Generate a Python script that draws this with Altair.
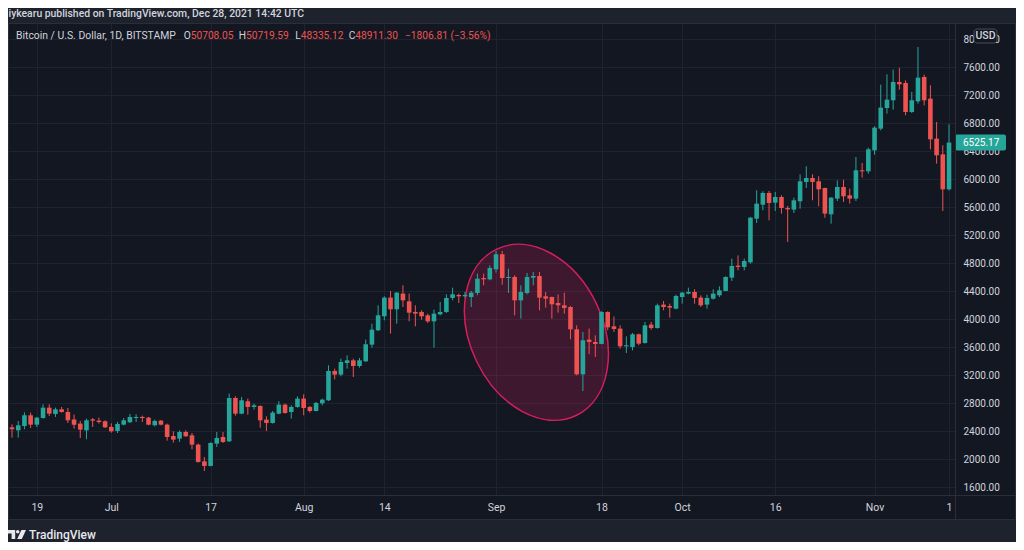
import altair as alt
import numpy as np
import pandas as pd

# ------------------------------------------------------------------ data
first_day = "2017-06-15"

opens = [
    # Jun 15-30
    2457, 2414, 2476, 2629, 2495, 2590, 2738, 2648, 2714, 2676, 2567, 2510, 2414, 2571, 2552, 2543,
    # Jul
    2462, 2405, 2495, 2529, 2590, 2605, 2595, 2486, 2552, 2495, 2333, 2295, 2390, 2343, 2210, 1971,
    1905, 2224, 2319, 2257, 2876, 2652, 2829, 2748, 2762, 2567, 2519, 2652, 2781, 2676, 2748,
    # Aug
    2867, 2748, 2690, 2800, 2843, 3262, 3210, 3376, 3414, 3333, 3400, 3638, 3843, 4043, 4310, 4143,
    4367, 4257, 4105, 4105, 4057, 3971, 4071, 4105, 4305, 4348, 4329, 4319, 4376, 4590, 4571,
    # Sep
    4714, 4929, 4590, 4605, 4271, 4376, 4595, 4619, 4329, 4319, 4233, 4200, 4176, 3857, 3214, 3710,
    3676, 3648, 4105, 3900, 3867, 3614, 3605, 3786, 3662, 3924, 3876, 4210, 4190, 4152,
    # Oct
    4319, 4367, 4390, 4310, 4210, 4295, 4343, 4405, 4595, 4767, 4748, 4814, 5438, 5638, 5805, 5667,
    5748, 5590, 5567, 5686, 5962, 6019, 5971, 5876, 5500, 5724, 5890, 5771, 5724, 6129, 6114,
    # Nov 1-13
    6414, 6724, 7019, 7129, 7390, 7376, 6962, 7114, 7462, 7152, 6581, 6357, 5857,
]
highs = [
    2500, 2547, 2671, 2667, 2605, 2786, 2786, 2738, 2748, 2733, 2638, 2548, 2581, 2590, 2595, 2557,
    2514, 2533, 2590, 2648, 2643, 2624, 2605, 2567, 2562, 2510, 2400, 2414, 2414, 2376, 2224, 2033,
    2243, 2390, 2390, 2938, 2900, 2890, 2867, 2795, 2771, 2614, 2690, 2829, 2795, 2771, 2900,
    2929, 2762, 2819, 2867, 3343, 3295, 3438, 3486, 3438, 3448, 3710, 3938, 4200, 4329, 4405, 4390,
    4486, 4367, 4200, 4129, 4081, 4138, 4248, 4357, 4452, 4367, 4390, 4405, 4652, 4652, 4771,
    4976, 4976, 4724, 4629, 4486, 4662, 4676, 4676, 4390, 4325, 4357, 4381, 4190, 3914, 3819, 3867,
    3771, 4114, 4114, 4040, 3914, 3757, 3805, 3795, 3962, 3962, 4224, 4262, 4224, 4352,
    4390, 4452, 4429, 4343, 4352, 4429, 4471, 4614, 4867, 4914, 4867, 5462, 5843, 5829, 5833, 5819,
    5771, 5619, 5738, 6071, 6186, 6071, 6043, 5880, 5745, 5986, 5995, 5867, 6319, 6233, 6452,
    6757, 7352, 7500, 7567, 7595, 7414, 7248, 7890, 7495, 7343, 6819, 6486, 6786,
]
lows = [
    2310, 2310, 2429, 2448, 2462, 2581, 2619, 2605, 2667, 2519, 2438, 2305, 2286, 2462, 2510, 2448,
    2381, 2376, 2486, 2519, 2533, 2533, 2486, 2471, 2486, 2267, 2238, 2248, 2319, 2143, 1952, 1833,
    1900, 2176, 2233, 2248, 2624, 2643, 2638, 2710, 2452, 2405, 2510, 2643, 2652, 2581, 2738,
    2629, 2667, 2686, 2771, 2833, 3143, 3186, 3295, 3176, 3310, 3390, 3595, 3833, 3986, 3795, 3938,
    4176, 3971, 3900, 3995, 3948, 3595, 4057, 4090, 4271, 4233, 4310, 4176, 4343, 4486, 4557,
    4667, 4495, 4376, 4057, 4010, 4357, 4486, 4129, 4167, 4010, 4095, 4081, 3714, 3200, 2976, 3500,
    3462, 3643, 3843, 3820, 3581, 3519, 3557, 3629, 3652, 3852, 3867, 4129, 4024, 4143,
    4224, 4357, 4224, 4176, 4152, 4281, 4319, 4400, 4548, 4700, 4700, 4795, 5376, 5557, 5414, 5548,
    5510, 5105, 5519, 5581, 5876, 5700, 5614, 5452, 5367, 5690, 5676, 5652, 5690, 6024, 6081,
    6352, 6700, 6938, 6995, 7281, 6914, 6948, 7081, 7057, 6429, 6224, 5548, 5840,
]
closes = [
    2429, 2486, 2629, 2495, 2595, 2738, 2652, 2714, 2676, 2557, 2495, 2424, 2557, 2552, 2533, 2457,
    2400, 2505, 2557, 2605, 2605, 2590, 2495, 2548, 2495, 2319, 2281, 2390, 2329, 2210, 1962, 1905,
    2233, 2305, 2248, 2876, 2652, 2843, 2748, 2771, 2557, 2519, 2667, 2781, 2662, 2748, 2867,
    2733, 2690, 2805, 2852, 3262, 3210, 3390, 3414, 3333, 3414, 3643, 3852, 4057, 4310, 4143, 4381,
    4271, 4095, 4081, 4043, 3971, 4081, 4105, 4305, 4357, 4329, 4348, 4381, 4581, 4571, 4733,
    4929, 4590, 4605, 4271, 4390, 4605, 4619, 4310, 4295, 4214, 4200, 4162, 3857, 3214, 3700, 3676,
    3648, 4105, 3885, 3862, 3614, 3629, 3786, 3652, 3914, 3876, 4200, 4176, 4167, 4333,
    4381, 4390, 4305, 4200, 4305, 4367, 4414, 4605, 4762, 4748, 4833, 5452, 5652, 5805, 5662, 5748,
    5590, 5571, 5700, 5971, 6019, 5962, 5857, 5510, 5738, 5890, 5757, 5724, 6129, 6114, 6429,
    6738, 7024, 7138, 7390, 7357, 6962, 7129, 7452, 7129, 6571, 6343, 5857, 6525.17,
]

tick_dates = ["2017-06-19", "2017-07-01", "2017-07-17", "2017-08-01", "2017-08-14", "2017-09-01",
              "2017-09-18", "2017-10-01", "2017-10-16", "2017-11-01", "2017-11-13"]
tick_labels = ["19", "Jul", "17", "Aug", "14", "Sep", "18", "Oct", "16", "Nov", "1"]
price_ticks = [1600, 2000, 2400, 2800, 3200, 3600, 4000, 4400, 4800, 5200, 5600, 6000,
               6400, 6800, 7200, 7600, 8000]

ellipse_center_time = "2017-09-07 12:15"
ellipse_center_price = 3814

header_title = "iykearu published on TradingView.com, Dec 28, 2021 14:42 UTC"
symbol_desc = "Bitcoin / U.S. Dollar, 1D, BITSTAMP"
ohlc_letters = ["O", "H", "L", "C"]
ohlc_values = ["50708.05", "50719.59", "48335.12", "48911.30"]
change_text = "\u22121806.81 (\u22123.56%)"
currency = "USD"
brand = "TradingView"

# ------------------------------------------------------------------ layout / style
W, H = 947, 472
FONT = "Roboto"
BG = "#131722"
OUTER = "#1e222d"
BORDER = "#2a2e39"
GRID = "#1f2330"
TEXT = "#d1d4dc"
UP = "#26a69a"
DOWN = "#ef5350"
ELL = "#e91e63"
desc_x = 8
ohlc_value_x = [182.7, 238, 292.7, 347.3]
change_x = 397

dates = pd.date_range(first_day, periods=len(opens), freq="D")
df = pd.DataFrame({"date": dates.strftime("%Y-%m-%d"), "open": opens, "high": highs,
                   "low": lows, "close": closes})
df["i"] = (dates - dates[0]).days
df["dir"] = np.where(df["close"] >= df["open"], "up", "down")

tick_i = [int((pd.Timestamp(d) - dates[0]).days) for d in tick_dates]
label_expr = "".join(f"datum.value == {v} ? '{l}' : " for v, l in zip(tick_i, tick_labels)) + "''"

xscale = alt.Scale(domain=[0.158, 151.16], nice=False, zero=False)
yscale = alt.Scale(domain=[1490, 8233], nice=False, zero=False)

xaxis = alt.Axis(orient="bottom", values=tick_i, labelExpr=label_expr, title=None, domain=False,
                 ticks=False, tickSize=0, labelPadding=12, labelBaseline="middle",
                 labelFont=FONT, labelFontSize=10.5, labelColor=TEXT, labelOverlap=False,
                 labelFlush=3, grid=True, gridColor=GRID, gridOpacity=1, gridWidth=1)
yaxis = alt.Axis(orient="right", values=price_ticks, format=".2f", title=None, domain=False,
                 ticks=False, tickSize=0, labelPadding=8, labelAlign="left",
                 labelBaseline="middle", labelFont=FONT, labelFontSize=10, labelColor=TEXT,
                 labelOverlap=False, labelFlush=False, grid=True, gridColor=GRID,
                 gridOpacity=1, gridWidth=1)

X = alt.X("i:Q", scale=xscale, axis=xaxis)
cscale = alt.Scale(domain=["up", "down"], range=[UP, DOWN])
C = alt.Color("dir:N", scale=cscale, legend=None)

one = pd.DataFrame({"k": [0]})


def poly(pts):
    return "M " + " L ".join(f"{x:.3f} {y:.3f}" for x, y in pts) + " Z"


def circ(cx, cy, r):
    k = 0.5523 * r
    return (f"M {cx - r:.3f} {cy:.3f} C {cx - r:.3f} {cy - k:.3f} {cx - k:.3f} {cy - r:.3f} {cx:.3f} {cy - r:.3f} "
            f"C {cx + k:.3f} {cy - r:.3f} {cx + r:.3f} {cy - k:.3f} {cx + r:.3f} {cy:.3f} "
            f"C {cx + r:.3f} {cy + k:.3f} {cx + k:.3f} {cy + r:.3f} {cx:.3f} {cy + r:.3f} "
            f"C {cx - k:.3f} {cy + r:.3f} {cx - r:.3f} {cy + k:.3f} {cx - r:.3f} {cy:.3f} Z")


# ellipse shape (unit major semi-axis, ratio b)
kk, b = 0.5523, 0.7212
ellipse_path = (f"M -1 0 C -1 {-kk*b:.4f} {-kk:.4f} {-b:.4f} 0 {-b:.4f} "
                f"C {kk:.4f} {-b:.4f} 1 {-kk*b:.4f} 1 0 "
                f"C 1 {kk*b:.4f} {kk:.4f} {b:.4f} 0 {b:.4f} "
                f"C {-kk:.4f} {b:.4f} -1 {kk*b:.4f} -1 0 Z")


# TradingView logo in an 18x9 px box mapped to [-1,1] x [-0.5,0.5]
def lp(px, py):
    return (px / 9 - 1, py / 9 - 0.5)


logo_path = " ".join([
    poly([lp(0, 0), lp(7.2, 0), lp(7.2, 9), lp(3.6, 9), lp(3.6, 3.4), lp(0, 3.4)]),
    circ(9.7 / 9 - 1, 1.7 / 9 - 0.5, 1.7 / 9),
    poly([lp(13.4, 0), lp(18, 0), lp(13.8, 9), lp(9.2, 9)]),
])

# ------------------------------------------------------------------ layers
base = alt.Chart(df)

wicks = base.mark_rule(strokeWidth=1, clip=True).encode(
    x=X, y=alt.Y("low:Q", scale=yscale, axis=yaxis), y2="high:Q", color=C)
bodies = base.mark_bar(size=4.6, clip=True).encode(
    x=X, y=alt.Y("open:Q", scale=yscale, axis=yaxis), y2="close:Q", color=C)

ell_df = pd.DataFrame({
    "i": [(pd.Timestamp(ellipse_center_time) - dates[0]) / pd.Timedelta(days=1)],
    "price": [ellipse_center_price]})
ellipse = alt.Chart(ell_df).mark_point(
    shape=ellipse_path, size=(2 * 92.2) ** 2, angle=64.5, filled=True, fill=ELL,
    fillOpacity=0.2, stroke=ELL, strokeWidth=1.5, strokeOpacity=0.9, opacity=1).encode(
    x=X, y=alt.Y("price:Q", scale=yscale, axis=yaxis))

last = df.tail(1).copy()
last["label"] = last["close"].map(lambda v: f"{v:.2f}")
last_box = alt.Chart(last).mark_rect(color=UP, yOffset=-8, y2Offset=8, cornerRadius=2).encode(
    x=alt.value(W), x2=alt.value(W + 51), y=alt.Y("close:Q", scale=yscale, axis=yaxis),
    y2="close:Q")
last_txt = alt.Chart(last).mark_text(align="left", baseline="middle", font=FONT, fontSize=10,
                                     color="#ffffff").encode(
    x=alt.value(W + 8), y=alt.Y("close:Q", scale=yscale, axis=yaxis), text="label:N")

layers = []


def rect(x0, x1, y0, y1, color, **kw):
    return alt.Chart(one).mark_rect(color=color, **kw).encode(
        x=alt.value(x0), x2=alt.value(x1), y=alt.value(y0), y2=alt.value(y1))


def rule(x0, x1, y0, y1):
    return alt.Chart(one).mark_rule(color=BORDER, strokeWidth=1).encode(
        x=alt.value(x0), x2=alt.value(x1), y=alt.value(y0), y2=alt.value(y1))


def text(s, x, y, color=TEXT, size=10.5, weight="normal", align="left"):
    return alt.Chart(one).mark_text(text=s, align=align, baseline="middle", font=FONT,
                                    fontSize=size, fontWeight=weight, color=color).encode(
        x=alt.value(x), y=alt.value(y))


layers += [rect(0, 1008, -15, 0, OUTER), rect(0, 1008, 496.5, 530, OUTER),
           rect(1007.5, 1008, -15, 530, OUTER)]
layers += [ellipse, wicks, bodies, last_box, last_txt]
# frame
layers += [rule(0, 1007.5, 0.5, 0.5), rule(0, 1007.5, 472.5, 472.5), rule(0, 1007.5, 496.5, 496.5),
           rule(0.5, 0.5, 0, 496.5), rule(947.5, 947.5, 0, 496.5), rule(1007.5, 1007.5, 0, 496.5)]
# currency badge
layers += [rect(966, 989, 6, 20, BG, cornerRadius=3, stroke="#4a4e59", strokeWidth=1),
           text(currency, 977.5, 13, color=TEXT, size=10.5, weight=500, align="center")]
# headers
layers += [text(header_title, 0.5, -9.5, color=TEXT, size=10.4, weight=500)]
layers += [text(symbol_desc, desc_x, 13, color=TEXT, size=10.4)]
for letter, val, xv in zip(ohlc_letters, ohlc_values, ohlc_value_x):
    layers.append(text(letter, xv, 13, color=TEXT, size=10.2, align="right"))
    layers.append(text(val, xv, 13, color=DOWN, size=10.2))
layers += [text(change_text, change_x, 13, color=DOWN, size=10.2)]
# footer
logo = alt.Chart(one).mark_point(shape=logo_path, size=324, filled=True, fill="#e6e8ee",
                                 opacity=1, strokeWidth=0).encode(
    x=alt.value(9), y=alt.value(511.5))
layers += [logo, text(brand, 21, 512, color="#e6e8ee", size=12, weight=500)]

chart = alt.layer(*layers).properties(
    width=W, height=H,
    padding={"left": 0, "top": 15, "right": 61, "bottom": 47},
    autosize=alt.AutoSizeParams(type="none"),
).configure(background=BG).configure_view(stroke=None)

chart.save("out.html", embed_options={"renderer": "svg", "actions": False})
